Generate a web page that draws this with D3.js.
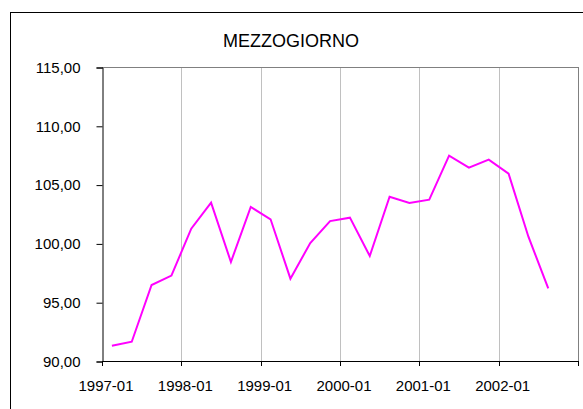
<!DOCTYPE html>
<html>
<head>
<meta charset="utf-8">
<script src="https://cdn.jsdelivr.net/npm/d3@7"></script>
<style>
 body { margin: 0; background: #fff; }
 text { font-family: "Liberation Sans", Arial, sans-serif; fill: #000; }
</style>
</head>
<body>
<script>
'use strict'
// quarterly index, Mezzogiorno, 1997 Q1 - 2002 Q3

const years = ["1997", "1998", "1999", "2000", "2001", "2002"];
const quarters = ["01", "04", "07", "10"];
const yearLabels = ["1997-01", "1998-01", "1999-01", "2000-01", "2001-01", "2002-01"];
const values = [91.30, 91.64, 96.46, 97.26, 101.25, 103.46, 98.42, 103.10,
 102.05, 97.00, 100.03, 101.90, 102.19, 98.93, 103.97, 103.43,
 103.72, 107.46, 106.44, 107.12, 105.93, 100.57, 96.18];
const yTicks = [90, 95, 100, 105, 110, 115];

// all quarter categories (last one has no value yet)
let cats = [];
years.forEach(y => quarters.forEach(q => cats.push(y + "-" + q)));

const W = 583, H = 409;
const pLeft = 102, pRight = 578, pTop = 67, pBottom = 361;

let svg = d3.select("body").append("svg")
 .attr("width", W)
 .attr("height", H);

// outer chart frame (runs past the window on right and bottom)
svg.append("rect")
 .attr("x", 10.5).attr("y", 12.5)
 .attr("width", 620).attr("height", 450)
 .attr("fill", "none").attr("stroke", "#000");

let x = d3.scaleBand().domain(cats).range([pLeft, pRight]);
let y = d3.scaleLinear().domain([90, 115]).range([pBottom, pTop]);

// year boundaries
let bounds = years.map(yr => x(yr + "-01")).concat([pRight]);

svg.append("g").selectAll("line").data(bounds.slice(1)).join("line")
 .attr("x1", d => Math.round(d) + 0.5).attr("x2", d => Math.round(d) + 0.5)
 .attr("y1", pTop).attr("y2", pBottom)
 .attr("stroke", "#c0c0c0");

// plot area border top / right
svg.append("line")
 .attr("x1", pLeft).attr("x2", pRight + 0.5)
 .attr("y1", pTop + 0.5).attr("y2", pTop + 0.5)
 .attr("stroke", "#808080");
svg.append("line")
 .attr("x1", pRight + 0.5).attr("x2", pRight + 0.5)
 .attr("y1", pTop).attr("y2", pBottom)
 .attr("stroke", "#808080");

// y axis
let yAxis = d3.axisLeft(y).tickValues(yTicks).tickSize(6)
 .tickFormat(d => d3.format(".2f")(d).replace(".", ","));
let ya = svg.append("g").attr("transform", "translate(" + (pLeft + 0.5) + ",0.5)").call(yAxis);
ya.select(".domain").attr("stroke", "#000");
ya.selectAll(".tick line").attr("stroke", "#000");
ya.selectAll(".tick text")
 .attr("x", -22).attr("font-size", "15px")
 .attr("font-family", "Liberation Sans, Arial, sans-serif");

// x axis: line and ticks at year boundaries
svg.append("line")
 .attr("x1", pLeft).attr("x2", pRight + 1)
 .attr("y1", pBottom + 0.5).attr("y2", pBottom + 0.5)
 .attr("stroke", "#000");
svg.append("g").selectAll("line").data(bounds).join("line")
 .attr("x1", d => Math.round(d) + 0.5).attr("x2", d => Math.round(d) + 0.5)
 .attr("y1", pBottom).attr("y2", pBottom + 5)
 .attr("stroke", "#000");

svg.append("g").selectAll("text").data(yearLabels).join("text")
 .attr("x", (d, i) => x(years[i] + "-01") + 4)
 .attr("y", 391)
 .attr("text-anchor", "middle")
 .attr("font-size", "15px")
 .text(d => d);

// the series
let line = d3.line()
 .x((d, i) => x(cats[i]) + x.bandwidth() / 2)
 .y(d => y(d));

svg.append("path")
 .datum(values)
 .attr("d", line)
 .attr("fill", "none")
 .attr("stroke", "#ff00ff")
 .attr("stroke-width", 2);

// title
svg.append("text")
 .attr("x", 291).attr("y", 47)
 .attr("text-anchor", "middle")
 .attr("font-size", "18px")
 .text("MEZZOGIORNO");
</script>
</body>
</html>
